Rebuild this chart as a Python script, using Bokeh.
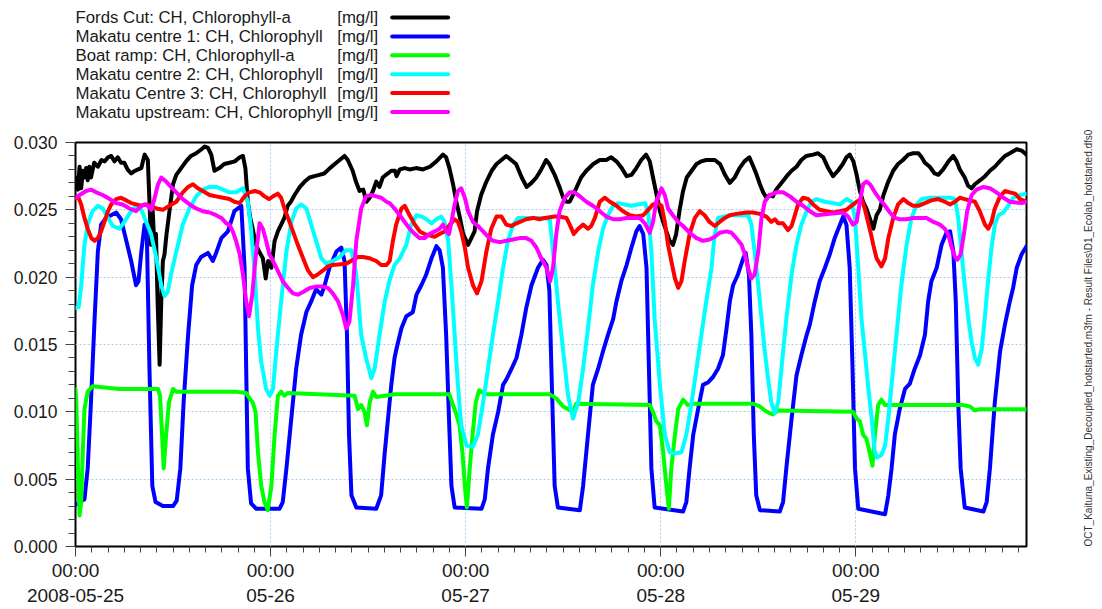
from math import pi
from bokeh.plotting import figure
from bokeh.layouts import column
from bokeh.models import Range1d, FixedTicker, PrintfTickFormatter, LinearAxis
from bokeh.core.properties import value
from bokeh.embed import file_html
from bokeh.resources import INLINE

FONT = "Liberation Sans"

# ---------------- data (hours since 2008-05-25 00:00, mg/l) ----------------
x_ticks = [0, 24, 48, 72, 96]
x_tick_labels = ["00:00\n2008-05-25", "00:00\n05-26", "00:00\n05-27", "00:00\n05-28", "00:00\n05-29"]
y_ticks = [0.0, 0.005, 0.010, 0.015, 0.020, 0.025, 0.030]

series_names = [
    "Fords Cut: CH, Chlorophyll-a",
    "Makatu centre 1: CH, Chlorophyll",
    "Boat ramp: CH, Chlorophyll-a",
    "Makatu centre 2: CH, Chlorophyll",
    "Makatu Centre 3: CH, Chlorophyll",
    "Makatu upstream: CH, Chlorophyll",
]
series_unit = "[mg/l]"
series_colors = ["#000000", "#0000ff", "#00ff00", "#00ffff", "#ff0000", "#ff00ff"]

fords_t = [0.0, 0.1, 0.3, 0.5, 0.7, 0.9, 1.1, 1.3, 1.5, 1.7, 1.9, 2.3, 2.75, 3.2, 3.6, 4.0, 4.4, 4.8, 5.2, 5.6, 6.0, 6.4, 6.85, 7.3, 7.7, 8.1, 8.5, 8.9, 9.1, 9.3, 9.5, 9.7, 9.9, 10.1, 10.35, 10.55, 10.75, 10.95, 11.2, 11.6, 12.0, 12.4, 13.0, 13.6, 14.2, 14.85, 15.5, 15.9, 16.3, 16.7, 17.1, 17.7, 18.3, 18.95, 19.6, 20.2, 20.6, 20.9, 21.2, 21.5, 21.8, 22.2, 22.6, 23.05, 23.4, 23.7, 24.1, 24.5, 24.9, 25.3, 25.7, 26.1, 26.5, 26.95, 27.6, 28.2, 28.8, 29.4, 30.0, 30.6, 31.3, 31.9, 32.5, 33.1, 33.5, 34.1, 34.5, 34.95, 35.4, 35.8, 36.2, 36.6, 37.0, 37.4, 37.8, 38.2, 38.85, 39.3, 39.5, 39.9, 40.5, 41.1, 41.9, 42.75, 43.6, 44.4, 45.2, 45.6, 46.0, 46.45, 46.85, 47.3, 47.7, 48.3, 48.7, 49.1, 49.4, 49.9, 50.55, 51.2, 51.8, 52.4, 53.0, 53.6, 54.2, 54.9, 55.5, 56.1, 56.7, 57.3, 57.9, 58.3, 58.95, 59.6, 60.0, 60.4, 60.8, 61.2, 61.6, 62.2, 62.85, 63.7, 64.5, 65.3, 65.9, 66.55, 67.2, 67.8, 68.4, 69.0, 69.6, 70.2, 70.65, 71.05, 71.5, 71.9, 72.3, 72.7, 73.1, 73.5, 73.9, 74.3, 74.75, 75.2, 75.8, 76.4, 77.0, 77.6, 78.0, 78.65, 79.3, 79.9, 80.5, 81.1, 81.7, 82.3, 82.9, 83.4, 83.8, 84.2, 84.6, 85.0, 85.4, 85.8, 86.2, 86.85, 87.5, 88.1, 88.7, 89.3, 89.9, 90.75, 91.35, 92.0, 92.6, 93.2, 93.8, 94.4, 94.85, 95.25, 95.7, 96.1, 96.5, 96.9, 97.3, 97.7, 98.15, 98.55, 98.95, 99.4, 100.0, 100.6, 101.2, 101.8, 102.45, 103.05, 103.7, 104.1, 104.5, 105.1, 105.7, 106.15, 106.75, 107.4, 108.0, 108.4, 108.8, 109.4, 109.8, 110.25, 110.65, 111.3, 111.9, 112.5, 113.1, 113.7, 114.35, 114.95, 115.8, 116.4, 117.0]
fords_v = [0.0266, 0.0274, 0.0265, 0.0282, 0.0266, 0.0279, 0.0274, 0.0281, 0.0272, 0.0282, 0.0274, 0.0285, 0.0282, 0.0287, 0.0286, 0.0289, 0.0290, 0.0286, 0.0289, 0.0285, 0.0285, 0.0280, 0.0277, 0.0279, 0.0280, 0.0281, 0.0291, 0.0287, 0.0256, 0.0224, 0.0249, 0.0224, 0.0232, 0.0182, 0.0135, 0.0182, 0.0212, 0.0217, 0.0232, 0.0251, 0.0269, 0.0276, 0.0281, 0.0286, 0.0290, 0.0292, 0.0295, 0.0297, 0.0296, 0.0291, 0.0279, 0.0281, 0.0284, 0.0285, 0.0286, 0.0289, 0.0290, 0.0281, 0.0256, 0.0244, 0.0236, 0.0224, 0.0219, 0.0214, 0.0199, 0.0212, 0.0207, 0.0227, 0.0234, 0.0239, 0.0244, 0.0253, 0.0256, 0.0261, 0.0267, 0.0271, 0.0274, 0.0275, 0.0276, 0.0277, 0.0281, 0.0284, 0.0287, 0.0290, 0.0287, 0.0279, 0.0271, 0.0264, 0.0265, 0.0256, 0.0259, 0.0264, 0.0271, 0.0267, 0.0274, 0.0276, 0.0279, 0.0279, 0.0275, 0.0280, 0.0281, 0.0280, 0.0281, 0.0280, 0.0282, 0.0286, 0.0291, 0.0289, 0.0281, 0.0269, 0.0256, 0.0244, 0.0232, 0.0224, 0.0229, 0.0234, 0.0249, 0.0261, 0.0271, 0.0279, 0.0284, 0.0287, 0.0290, 0.0287, 0.0284, 0.0274, 0.0267, 0.0270, 0.0274, 0.0280, 0.0287, 0.0284, 0.0276, 0.0266, 0.0259, 0.0256, 0.0256, 0.0261, 0.0266, 0.0274, 0.0279, 0.0284, 0.0287, 0.0287, 0.0289, 0.0286, 0.0281, 0.0275, 0.0276, 0.0281, 0.0287, 0.0291, 0.0286, 0.0274, 0.0261, 0.0249, 0.0241, 0.0234, 0.0227, 0.0224, 0.0232, 0.0249, 0.0264, 0.0274, 0.0279, 0.0284, 0.0286, 0.0287, 0.0287, 0.0287, 0.0284, 0.0276, 0.0270, 0.0274, 0.0281, 0.0286, 0.0289, 0.0282, 0.0276, 0.0269, 0.0263, 0.0259, 0.0261, 0.0260, 0.0265, 0.0270, 0.0275, 0.0279, 0.0282, 0.0287, 0.0290, 0.0291, 0.0292, 0.0289, 0.0281, 0.0275, 0.0279, 0.0284, 0.0289, 0.0291, 0.0286, 0.0276, 0.0264, 0.0256, 0.0251, 0.0244, 0.0236, 0.0246, 0.0250, 0.0261, 0.0271, 0.0279, 0.0284, 0.0287, 0.0291, 0.0292, 0.0292, 0.0289, 0.0285, 0.0282, 0.0277, 0.0276, 0.0280, 0.0286, 0.0290, 0.0286, 0.0280, 0.0274, 0.0268, 0.0266, 0.0269, 0.0272, 0.0275, 0.0279, 0.0282, 0.0286, 0.0290, 0.0292, 0.0295, 0.0294, 0.0291]

makatu1_t = [0.0, 1.1, 1.5, 1.9, 2.35, 2.75, 3.15, 3.75, 5.0, 5.6, 6.25, 6.85, 7.45, 7.75, 8.1, 8.5, 8.75, 9.1, 9.45, 9.85, 10.75, 12.0, 12.45, 12.9, 13.3, 13.85, 14.35, 14.85, 15.45, 16.3, 16.9, 17.3, 17.95, 18.75, 19.55, 20.4, 20.8, 21.0, 21.2, 21.6, 22.25, 25.1, 25.5, 25.95, 26.55, 27.15, 27.75, 28.4, 29.0, 29.6, 30.25, 30.65, 31.25, 32.1, 32.7, 33.1, 33.4, 33.65, 33.95, 34.55, 37.0, 37.6, 38.05, 38.45, 38.85, 39.25, 39.5, 40.1, 40.7, 41.5, 41.95, 42.55, 43.15, 43.8, 44.4, 44.8, 45.2, 45.6, 45.95, 46.25, 46.65, 49.95, 50.35, 50.75, 51.35, 52.0, 52.6, 53.0, 53.65, 54.25, 54.85, 55.45, 56.1, 56.9, 57.5, 57.95, 58.3, 58.55, 58.95, 59.35, 62.05, 62.45, 63.05, 63.65, 64.3, 64.9, 65.5, 66.15, 66.55, 67.15, 67.8, 68.4, 69.0, 69.4, 69.85, 70.25, 70.55, 70.85, 71.25, 74.75, 75.15, 75.55, 76.0, 76.6, 77.2, 77.85, 78.45, 79.05, 79.65, 80.1, 80.5, 80.9, 81.5, 82.15, 82.45, 82.85, 83.15, 83.45, 83.75, 84.2, 86.65, 87.05, 87.45, 88.1, 88.7, 89.3, 89.95, 90.35, 90.95, 91.55, 92.2, 92.8, 93.4, 94.05, 94.45, 94.85, 95.25, 95.6, 95.9, 96.3, 99.6, 100.0, 100.4, 100.8, 101.4, 102.05, 102.65, 103.25, 103.9, 104.5, 104.9, 105.3, 105.95, 106.55, 107.15, 107.6, 108.0, 108.3, 108.6, 108.9, 109.4, 111.7, 112.1, 112.5, 113.1, 113.75, 114.35, 114.95, 115.35, 115.8, 116.4, 117.0]
makatu1_v = [0.0031, 0.0035, 0.0058, 0.0107, 0.0169, 0.0219, 0.0239, 0.0244, 0.0248, 0.0243, 0.0227, 0.0212, 0.0194, 0.0197, 0.0219, 0.0239, 0.0240, 0.0132, 0.0045, 0.0033, 0.0030, 0.0030, 0.0034, 0.0058, 0.0107, 0.0157, 0.0194, 0.0209, 0.0215, 0.0218, 0.0212, 0.0218, 0.0229, 0.0234, 0.0249, 0.0253, 0.0207, 0.0132, 0.0058, 0.0032, 0.0028, 0.0028, 0.0033, 0.0058, 0.0095, 0.0132, 0.0157, 0.0174, 0.0182, 0.0191, 0.0187, 0.0194, 0.0207, 0.0219, 0.0222, 0.0212, 0.0157, 0.0083, 0.0038, 0.0029, 0.0028, 0.0038, 0.0070, 0.0095, 0.0120, 0.0140, 0.0147, 0.0162, 0.0171, 0.0174, 0.0187, 0.0194, 0.0202, 0.0214, 0.0223, 0.0220, 0.0207, 0.0157, 0.0095, 0.0045, 0.0029, 0.0028, 0.0035, 0.0058, 0.0083, 0.0100, 0.0120, 0.0124, 0.0132, 0.0140, 0.0157, 0.0177, 0.0194, 0.0207, 0.0213, 0.0209, 0.0190, 0.0132, 0.0045, 0.0029, 0.0027, 0.0045, 0.0083, 0.0120, 0.0132, 0.0145, 0.0157, 0.0169, 0.0182, 0.0197, 0.0209, 0.0222, 0.0234, 0.0238, 0.0232, 0.0207, 0.0132, 0.0058, 0.0029, 0.0026, 0.0033, 0.0058, 0.0083, 0.0102, 0.0120, 0.0122, 0.0126, 0.0132, 0.0142, 0.0162, 0.0182, 0.0194, 0.0202, 0.0214, 0.0218, 0.0202, 0.0157, 0.0083, 0.0038, 0.0027, 0.0026, 0.0033, 0.0058, 0.0095, 0.0127, 0.0142, 0.0157, 0.0165, 0.0182, 0.0197, 0.0207, 0.0217, 0.0229, 0.0239, 0.0245, 0.0239, 0.0207, 0.0132, 0.0058, 0.0028, 0.0024, 0.0038, 0.0058, 0.0083, 0.0102, 0.0117, 0.0121, 0.0132, 0.0142, 0.0157, 0.0182, 0.0197, 0.0207, 0.0224, 0.0233, 0.0234, 0.0219, 0.0182, 0.0107, 0.0058, 0.0029, 0.0026, 0.0033, 0.0058, 0.0107, 0.0145, 0.0165, 0.0182, 0.0192, 0.0207, 0.0217, 0.0223]

boat_t = [0.0, 0.1, 0.3, 0.5, 0.7, 0.9, 1.1, 1.5, 2.1, 5.4, 10.15, 10.4, 10.65, 10.85, 11.15, 11.5, 12.0, 12.4, 15.7, 19.6, 21.0, 21.4, 21.8, 22.15, 22.45, 22.85, 23.25, 23.65, 24.1, 24.5, 24.9, 25.3, 25.7, 26.1, 34.35, 34.75, 35.15, 35.55, 35.85, 36.2, 36.6, 37.0, 39.3, 46.0, 46.45, 46.85, 47.25, 47.6, 47.9, 48.15, 48.5, 48.85, 49.25, 49.65, 50.15, 50.75, 58.35, 59.15, 60.0, 60.6, 61.2, 61.6, 70.65, 71.05, 71.45, 71.9, 72.3, 72.7, 73.0, 73.3, 73.75, 74.15, 74.75, 75.35, 76.0, 83.35, 84.2, 84.8, 85.4, 85.8, 86.45, 95.65, 96.1, 96.5, 96.9, 97.3, 97.7, 98.05, 98.35, 98.75, 99.15, 99.6, 109.2, 110.05, 110.65, 111.25, 117.0]
boat_v = [0.0117, 0.0107, 0.0058, 0.0023, 0.0033, 0.0070, 0.0102, 0.0115, 0.0119, 0.0117, 0.0117, 0.0112, 0.0083, 0.0058, 0.0083, 0.0107, 0.0117, 0.0115, 0.0115, 0.0115, 0.0114, 0.0110, 0.0107, 0.0100, 0.0070, 0.0045, 0.0033, 0.0027, 0.0045, 0.0083, 0.0112, 0.0115, 0.0112, 0.0114, 0.0112, 0.0102, 0.0105, 0.0100, 0.0090, 0.0107, 0.0115, 0.0111, 0.0113, 0.0113, 0.0105, 0.0098, 0.0090, 0.0070, 0.0045, 0.0029, 0.0058, 0.0083, 0.0107, 0.0116, 0.0114, 0.0113, 0.0113, 0.0110, 0.0104, 0.0102, 0.0100, 0.0106, 0.0105, 0.0100, 0.0093, 0.0090, 0.0070, 0.0045, 0.0028, 0.0058, 0.0083, 0.0102, 0.0109, 0.0105, 0.0106, 0.0106, 0.0104, 0.0101, 0.0099, 0.0098, 0.0101, 0.0100, 0.0095, 0.0093, 0.0083, 0.0080, 0.0070, 0.0060, 0.0083, 0.0105, 0.0109, 0.0105, 0.0105, 0.0104, 0.0101, 0.0102, 0.0102]

makatu2_t = [0.0, 0.4, 0.7, 1.1, 1.5, 2.1, 2.75, 3.35, 4.0, 4.6, 5.4, 6.0, 6.85, 7.45, 8.1, 8.7, 9.3, 9.95, 10.55, 10.95, 11.35, 11.75, 12.4, 13.2, 14.0, 14.85, 15.65, 16.5, 17.3, 18.15, 18.95, 19.75, 20.6, 21.2, 21.6, 22.05, 22.45, 22.85, 23.45, 23.9, 24.3, 24.7, 25.3, 25.95, 26.55, 27.15, 27.75, 28.4, 29.0, 29.6, 30.25, 30.85, 31.65, 32.5, 33.3, 33.95, 34.55, 35.15, 35.75, 36.4, 36.8, 37.4, 38.05, 38.65, 39.25, 39.9, 40.7, 41.3, 41.95, 42.55, 43.15, 43.8, 44.4, 45.0, 45.4, 45.85, 46.25, 46.65, 47.05, 47.45, 48.1, 48.9, 49.5, 50.15, 50.75, 51.35, 52.0, 52.6, 53.2, 53.85, 54.45, 55.05, 57.5, 58.35, 58.75, 59.35, 60.0, 60.6, 61.2, 61.85, 62.45, 63.05, 63.65, 64.3, 64.9, 65.5, 66.15, 66.75, 67.55, 68.4, 69.2, 70.05, 70.45, 70.85, 71.25, 71.9, 72.5, 73.1, 73.75, 74.55, 75.15, 75.8, 76.4, 77.0, 77.6, 78.25, 78.6, 79.05, 80.5, 82.75, 83.15, 83.55, 84.0, 84.4, 84.8, 85.2, 85.6, 86.05, 86.45, 86.85, 87.45, 88.1, 88.7, 89.3, 89.95, 90.55, 91.15, 92.2, 93.2, 94.05, 94.85, 95.45, 95.9, 96.3, 96.7, 97.1, 97.5, 97.95, 98.3, 98.6, 99.15, 99.6, 100.0, 100.4, 101.0, 101.6, 102.25, 102.85, 103.5, 104.1, 105.1, 107.6, 108.2, 108.6, 109.0, 109.4, 109.85, 110.25, 110.65, 111.05, 111.5, 111.9, 112.3, 112.7, 113.1, 113.55, 114.15, 114.75, 115.35, 116.2, 117.0]
makatu2_v = [0.0177, 0.0178, 0.0194, 0.0224, 0.0239, 0.0249, 0.0253, 0.0251, 0.0244, 0.0238, 0.0236, 0.0241, 0.0249, 0.0253, 0.0250, 0.0241, 0.0232, 0.0214, 0.0194, 0.0186, 0.0189, 0.0202, 0.0219, 0.0239, 0.0251, 0.0260, 0.0265, 0.0267, 0.0267, 0.0265, 0.0263, 0.0263, 0.0266, 0.0256, 0.0236, 0.0202, 0.0162, 0.0137, 0.0117, 0.0112, 0.0117, 0.0145, 0.0182, 0.0219, 0.0241, 0.0251, 0.0254, 0.0251, 0.0239, 0.0227, 0.0214, 0.0210, 0.0212, 0.0215, 0.0220, 0.0220, 0.0202, 0.0157, 0.0140, 0.0125, 0.0132, 0.0157, 0.0182, 0.0198, 0.0209, 0.0214, 0.0224, 0.0239, 0.0246, 0.0245, 0.0243, 0.0240, 0.0243, 0.0245, 0.0241, 0.0227, 0.0194, 0.0157, 0.0120, 0.0090, 0.0075, 0.0074, 0.0083, 0.0107, 0.0132, 0.0157, 0.0182, 0.0207, 0.0227, 0.0239, 0.0244, 0.0244, 0.0244, 0.0243, 0.0219, 0.0182, 0.0145, 0.0112, 0.0095, 0.0107, 0.0132, 0.0162, 0.0194, 0.0219, 0.0236, 0.0246, 0.0253, 0.0255, 0.0254, 0.0253, 0.0254, 0.0255, 0.0249, 0.0219, 0.0169, 0.0120, 0.0083, 0.0070, 0.0069, 0.0070, 0.0083, 0.0107, 0.0132, 0.0157, 0.0182, 0.0207, 0.0230, 0.0244, 0.0246, 0.0246, 0.0239, 0.0219, 0.0194, 0.0169, 0.0145, 0.0125, 0.0107, 0.0099, 0.0107, 0.0132, 0.0169, 0.0202, 0.0224, 0.0239, 0.0249, 0.0256, 0.0258, 0.0256, 0.0255, 0.0254, 0.0258, 0.0256, 0.0244, 0.0207, 0.0169, 0.0145, 0.0120, 0.0095, 0.0072, 0.0066, 0.0068, 0.0075, 0.0095, 0.0120, 0.0157, 0.0194, 0.0224, 0.0244, 0.0254, 0.0258, 0.0259, 0.0259, 0.0258, 0.0244, 0.0219, 0.0194, 0.0169, 0.0152, 0.0140, 0.0135, 0.0147, 0.0172, 0.0199, 0.0222, 0.0239, 0.0246, 0.0248, 0.0253, 0.0259, 0.0261, 0.0262]

makatu3_t = [0.0, 0.3, 0.7, 1.1, 1.5, 1.95, 2.35, 2.75, 3.15, 3.55, 4.0, 4.4, 5.0, 5.6, 6.25, 6.85, 7.45, 8.1, 8.7, 9.3, 9.95, 10.75, 11.55, 12.4, 13.2, 13.85, 14.45, 15.05, 15.65, 16.5, 17.3, 18.15, 18.95, 19.55, 20.2, 20.8, 21.4, 22.05, 22.65, 23.25, 23.8, 24.3, 24.9, 25.3, 25.7, 26.15, 26.75, 27.35, 28.0, 28.6, 29.2, 29.8, 30.45, 31.05, 31.65, 33.3, 34.15, 34.75, 35.35, 36.2, 37.0, 37.6, 38.25, 38.65, 39.05, 39.45, 40.1, 40.5, 41.1, 41.75, 42.35, 42.95, 44.2, 44.8, 45.4, 46.05, 46.65, 47.05, 47.45, 47.9, 48.3, 48.9, 49.4, 49.95, 50.55, 51.15, 51.8, 52.4, 53.0, 53.65, 54.25, 55.45, 56.3, 57.1, 57.75, 58.95, 59.55, 60.4, 60.8, 61.3, 61.85, 62.45, 63.05, 63.45, 63.9, 64.5, 65.1, 65.75, 66.55, 67.35, 68.2, 69.0, 69.85, 70.45, 71.05, 71.65, 72.1, 72.5, 72.9, 73.3, 73.75, 74.15, 74.55, 74.95, 75.55, 76.2, 76.8, 77.4, 78.0, 78.65, 79.25, 79.9, 80.5, 81.3, 82.55, 83.35, 84.2, 85.0, 85.6, 86.05, 86.45, 87.05, 87.65, 88.1, 88.5, 88.9, 89.5, 90.15, 90.75, 91.55, 92.4, 93.2, 94.05, 94.85, 95.45, 96.1, 96.7, 97.1, 97.5, 97.9, 98.15, 98.55, 99.15, 99.6, 100.0, 100.6, 101.2, 101.85, 102.45, 103.05, 103.7, 104.5, 105.3, 106.15, 106.95, 107.6, 108.2, 108.8, 109.4, 110.65, 111.25, 111.9, 112.3, 112.7, 113.1, 113.75, 114.35, 114.95, 115.6, 116.2, 117.0]
makatu3_v = [0.0259, 0.0260, 0.0254, 0.0244, 0.0236, 0.0229, 0.0227, 0.0229, 0.0234, 0.0241, 0.0249, 0.0254, 0.0258, 0.0259, 0.0257, 0.0255, 0.0254, 0.0253, 0.0254, 0.0253, 0.0251, 0.0250, 0.0253, 0.0256, 0.0263, 0.0267, 0.0269, 0.0266, 0.0264, 0.0261, 0.0260, 0.0259, 0.0258, 0.0256, 0.0255, 0.0260, 0.0263, 0.0264, 0.0263, 0.0260, 0.0258, 0.0260, 0.0262, 0.0259, 0.0251, 0.0244, 0.0234, 0.0224, 0.0214, 0.0205, 0.0200, 0.0202, 0.0205, 0.0208, 0.0209, 0.0210, 0.0213, 0.0215, 0.0215, 0.0214, 0.0212, 0.0209, 0.0209, 0.0212, 0.0227, 0.0239, 0.0251, 0.0253, 0.0246, 0.0239, 0.0234, 0.0232, 0.0230, 0.0232, 0.0234, 0.0239, 0.0243, 0.0241, 0.0234, 0.0222, 0.0207, 0.0194, 0.0188, 0.0197, 0.0219, 0.0236, 0.0245, 0.0245, 0.0239, 0.0238, 0.0240, 0.0243, 0.0244, 0.0243, 0.0244, 0.0245, 0.0245, 0.0244, 0.0239, 0.0232, 0.0236, 0.0239, 0.0236, 0.0238, 0.0244, 0.0256, 0.0259, 0.0256, 0.0253, 0.0249, 0.0246, 0.0245, 0.0246, 0.0250, 0.0254, 0.0255, 0.0253, 0.0241, 0.0224, 0.0212, 0.0199, 0.0192, 0.0197, 0.0212, 0.0232, 0.0244, 0.0249, 0.0246, 0.0241, 0.0238, 0.0241, 0.0244, 0.0246, 0.0247, 0.0248, 0.0248, 0.0247, 0.0245, 0.0241, 0.0243, 0.0240, 0.0240, 0.0235, 0.0238, 0.0246, 0.0254, 0.0259, 0.0258, 0.0254, 0.0250, 0.0249, 0.0248, 0.0249, 0.0250, 0.0253, 0.0256, 0.0258, 0.0251, 0.0241, 0.0231, 0.0224, 0.0214, 0.0208, 0.0214, 0.0229, 0.0244, 0.0254, 0.0258, 0.0255, 0.0253, 0.0253, 0.0255, 0.0257, 0.0258, 0.0256, 0.0254, 0.0256, 0.0259, 0.0258, 0.0256, 0.0249, 0.0239, 0.0236, 0.0241, 0.0251, 0.0260, 0.0264, 0.0263, 0.0262, 0.0258, 0.0256]

upstream_t = [0.0, 0.5, 1.3, 1.95, 2.55, 3.35, 4.2, 5.0, 5.8, 6.65, 7.45, 8.1, 8.5, 8.9, 9.3, 9.7, 10.15, 10.55, 11.15, 11.75, 12.4, 13.2, 14.05, 14.85, 15.65, 16.5, 17.3, 17.95, 18.55, 18.95, 19.35, 19.75, 20.2, 20.6, 21.0, 21.35, 21.75, 22.15, 22.65, 23.05, 23.45, 23.85, 24.3, 24.7, 25.1, 25.5, 26.15, 26.75, 27.35, 28.0, 28.8, 29.6, 30.45, 31.05, 31.65, 32.3, 32.9, 33.3, 33.7, 34.15, 34.55, 35.15, 35.75, 36.4, 37.0, 37.6, 38.25, 38.65, 39.25, 39.9, 40.5, 41.1, 41.75, 42.35, 42.95, 43.55, 44.2, 44.8, 45.2, 45.65, 45.95, 46.25, 46.65, 47.05, 47.45, 47.9, 48.3, 48.9, 49.5, 50.15, 50.75, 51.35, 52.2, 53.0, 53.85, 54.65, 55.45, 56.1, 56.7, 57.3, 57.95, 58.4, 58.75, 59.15, 59.55, 60.2, 60.8, 61.4, 62.05, 62.85, 63.65, 64.5, 65.3, 66.15, 66.95, 67.8, 68.6, 69.4, 70.05, 70.65, 71.05, 71.45, 72.1, 72.5, 72.9, 73.5, 74.15, 74.75, 75.55, 76.4, 77.2, 78.0, 78.65, 79.25, 80.1, 80.7, 81.3, 81.95, 82.35, 82.75, 83.15, 83.55, 84.0, 84.4, 84.8, 85.4, 86.25, 87.05, 87.9, 88.7, 89.5, 90.35, 91.15, 92.8, 94.45, 95.05, 95.65, 96.1, 96.5, 96.9, 97.3, 97.75, 98.35, 98.95, 99.6, 100.2, 100.8, 101.4, 102.25, 103.05, 104.7, 105.55, 106.35, 106.95, 107.35, 107.8, 108.2, 108.5, 108.9, 109.3, 109.7, 110.25, 110.85, 111.7, 112.5, 113.3, 114.15, 114.95, 116.4, 117.0]
upstream_v = [0.0259, 0.0261, 0.0264, 0.0265, 0.0263, 0.0261, 0.0258, 0.0255, 0.0254, 0.0251, 0.0249, 0.0253, 0.0254, 0.0253, 0.0250, 0.0258, 0.0269, 0.0274, 0.0271, 0.0267, 0.0263, 0.0258, 0.0254, 0.0251, 0.0249, 0.0248, 0.0246, 0.0244, 0.0240, 0.0239, 0.0234, 0.0227, 0.0217, 0.0202, 0.0182, 0.0171, 0.0187, 0.0214, 0.0240, 0.0236, 0.0227, 0.0217, 0.0212, 0.0207, 0.0202, 0.0197, 0.0192, 0.0188, 0.0187, 0.0189, 0.0192, 0.0193, 0.0193, 0.0192, 0.0188, 0.0182, 0.0172, 0.0162, 0.0167, 0.0194, 0.0227, 0.0251, 0.0260, 0.0261, 0.0260, 0.0259, 0.0256, 0.0255, 0.0251, 0.0246, 0.0241, 0.0236, 0.0232, 0.0229, 0.0229, 0.0232, 0.0234, 0.0236, 0.0239, 0.0234, 0.0232, 0.0241, 0.0254, 0.0264, 0.0266, 0.0259, 0.0249, 0.0241, 0.0238, 0.0234, 0.0230, 0.0227, 0.0226, 0.0227, 0.0228, 0.0229, 0.0229, 0.0227, 0.0222, 0.0214, 0.0207, 0.0197, 0.0207, 0.0232, 0.0249, 0.0259, 0.0263, 0.0263, 0.0260, 0.0256, 0.0253, 0.0249, 0.0245, 0.0243, 0.0243, 0.0244, 0.0244, 0.0244, 0.0240, 0.0233, 0.0241, 0.0256, 0.0266, 0.0261, 0.0251, 0.0246, 0.0241, 0.0238, 0.0233, 0.0229, 0.0227, 0.0228, 0.0230, 0.0233, 0.0234, 0.0233, 0.0229, 0.0224, 0.0217, 0.0207, 0.0199, 0.0202, 0.0219, 0.0244, 0.0256, 0.0261, 0.0263, 0.0263, 0.0260, 0.0256, 0.0253, 0.0249, 0.0246, 0.0247, 0.0248, 0.0245, 0.0239, 0.0241, 0.0256, 0.0269, 0.0271, 0.0269, 0.0263, 0.0258, 0.0253, 0.0248, 0.0244, 0.0243, 0.0243, 0.0244, 0.0244, 0.0241, 0.0239, 0.0236, 0.0232, 0.0222, 0.0215, 0.0213, 0.0217, 0.0232, 0.0249, 0.0261, 0.0265, 0.0267, 0.0266, 0.0263, 0.0259, 0.0256, 0.0255, 0.0256]

file_caption = "OCT_Kaituna_Existing_Decoupled_hotstarted.m3fm - Result Files\\D1_Ecolab_hotstarted.dfs0"

series_t = [fords_t, makatu1_t, boat_t, makatu2_t, makatu3_t, upstream_t]
series_v = [fords_v, makatu1_v, boat_v, makatu2_v, makatu3_v, upstream_v]

# ---------------- layout constants ----------------
W = 1102
LEG_H = 124
BORDER_L, BORDER_R = 75, 75
FRAME_L, FRAME_R = BORDER_L, W - BORDER_R   # plot frames in a column are aligned

# ---------------- legend strip ----------------
leg = figure(width=W, height=LEG_H, x_range=Range1d(FRAME_L, FRAME_R), y_range=Range1d(LEG_H, 0),
             output_backend="svg", toolbar_location=None, min_border=0,
             min_border_left=BORDER_L, min_border_right=BORDER_R,
             x_axis_type=None, y_axis_type=None)
leg.grid.visible = False
leg.outline_line_color = None
n = len(series_names)
row_y = [17 + 18.9 * i for i in range(n)]
leg.text(x=[75] * n, y=row_y, text=series_names,
         text_font=value(FONT), text_font_size="16.8px", text_baseline="middle",
         text_align="left", text_color="#1a1a1a")
leg.text(x=[337] * n, y=row_y, text=[series_unit] * n,
         text_font=value(FONT), text_font_size="16.8px", text_baseline="middle",
         text_align="left", text_color="#1a1a1a")
leg.segment(x0=[392] * n, x1=[448] * n, y0=row_y, y1=row_y,
            line_color=series_colors, line_width=4, line_cap="round")

# ---------------- main chart ----------------
MAIN_H = 609 - LEG_H
p = figure(width=W, height=MAIN_H, x_range=Range1d(0, 117), y_range=Range1d(0, 0.030),
           output_backend="svg", toolbar_location=None,
           min_border_left=BORDER_L, min_border_right=BORDER_R,
           min_border_top=142 - LEG_H, min_border_bottom=63)
p.outline_line_color = "black"
p.outline_line_width = 2

for t, v, c in zip(series_t, series_v, series_colors):
    p.line(t, v, line_color=c, line_width=4, line_join="round", line_cap="round")

p.xaxis.ticker = FixedTicker(ticks=x_ticks, minor_ticks=list(range(0, 118, 2)))
p.xaxis.major_label_overrides = {k: lab for k, lab in zip(x_ticks, x_tick_labels)}
p.yaxis.ticker = FixedTicker(ticks=y_ticks, minor_ticks=[i * 0.001 for i in range(31)])
p.yaxis.formatter = PrintfTickFormatter(format="%.3f")

for ax in (p.xaxis[0], p.yaxis[0]):
    ax.axis_line_color = None
    ax.major_tick_in = 0
    ax.minor_tick_in = 0
    ax.major_tick_line_color = "#444444"
    ax.minor_tick_line_color = "#444444"
    ax.major_label_text_font = FONT
    ax.major_label_text_color = "#1a1a1a"
p.yaxis.major_label_text_font_size = "17.5px"
p.xaxis.major_label_text_font_size = "19px"
p.yaxis.major_tick_out = 10
p.yaxis.minor_tick_out = 7
p.yaxis.major_label_standoff = 8
p.xaxis.major_tick_out = 10
p.xaxis.minor_tick_out = 6
p.xaxis.major_label_standoff = 3

p.xgrid.ticker = FixedTicker(ticks=x_ticks)
p.ygrid.ticker = FixedTicker(ticks=y_ticks)
for g in (p.xgrid[0], p.ygrid[0]):
    g.grid_line_color = "#a9ccf2"
    g.grid_line_dash = "2 2"
    g.grid_line_width = 1

# file caption, written up the right margin: the single tick label of a bare right axis,
# anchored at the bottom of the frame and running upwards
cap_axis = LinearAxis(ticker=FixedTicker(ticks=[0.0]), axis_line_color=None,
                      major_tick_line_color=None, minor_tick_line_color=None,
                      major_tick_out=0, minor_tick_out=0, major_tick_in=0, minor_tick_in=0,
                      major_label_overrides={0.0: file_caption},
                      major_label_orientation=pi / 2,
                      major_label_standoff=62,
                      major_label_text_font=FONT, major_label_text_font_size="10px",
                      major_label_text_color="#333333")
p.add_layout(cap_axis, "right")

layout = column(leg, p, spacing=0)
open("out.html", "w").write(file_html(layout, INLINE))
